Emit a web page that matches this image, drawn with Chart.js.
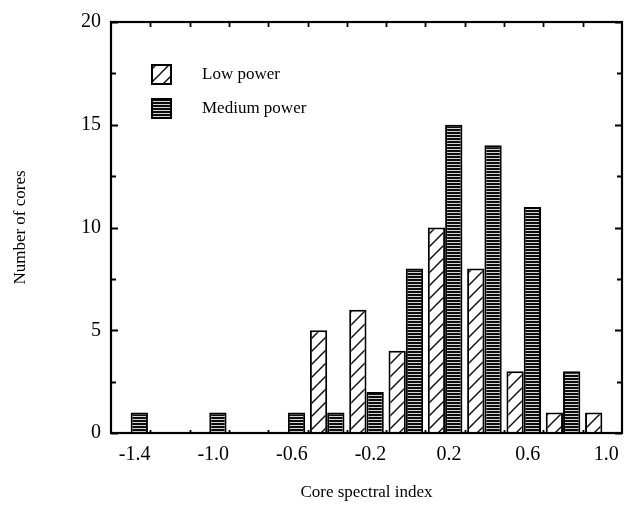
<!DOCTYPE html>
<html><head><meta charset="utf-8">
<script src="https://cdn.jsdelivr.net/npm/chart.js@4/dist/chart.umd.min.js"></script>
<style>html,body{margin:0;padding:0;background:#fff}</style>
</head><body>
<canvas id="c" width="643" height="510"></canvas>
<script>
const categories = ['-1.4','-1.2','-1.0','-0.8','-0.6','-0.4','-0.2','0.0','0.2','0.4','0.6','0.8','1.0'];
const tickLabels = ['-1.4','-1.0','-0.6','-0.2','0.2','0.6','1.0'];
const lowPower = [0,0,0,0,0,5,6,4,10,8,3,1,1];
const mediumPower = [1,0,1,0,1,1,2,8,15,14,11,3,0];
const yTickValues = [0,5,10,15,20];
const seriesNames = ['Low power','Medium power'];
const xTitle = 'Core spectral index';
const yTitle = 'Number of cores';

function hatchPattern(){
  const s = 13, cv = document.createElement('canvas');
  cv.width = s; cv.height = s;
  const g = cv.getContext('2d');
  g.fillStyle = '#fff'; g.fillRect(0,0,s,s);
  g.strokeStyle = '#111'; g.lineWidth = 1.5;
  for (const k of [0, s, 2*s]) {
    g.beginPath(); g.moveTo(-2, k+2); g.lineTo(k+2, -2); g.stroke();
  }
  return g.createPattern(cv, 'repeat');
}
function stripePattern(){
  const cv = document.createElement('canvas');
  cv.width = 4; cv.height = 3;
  const g = cv.getContext('2d');
  g.fillStyle = '#0d0d0d'; g.fillRect(0,0,4,3);
  g.fillStyle = '#d4d4d4'; g.fillRect(0,2,4,1);
  return g.createPattern(cv, 'repeat');
}
const lowFill = hatchPattern();
const medFill = stripePattern();
const SERIF = '"Liberation Serif", "Times New Roman", serif';

const frameAndTicks = {
  id: 'frameAndTicks',
  afterDatasetsDraw(chart){
    const {ctx, chartArea: a, scales: {x, y}} = chart;
    ctx.save();
    ctx.strokeStyle = '#000';
    ctx.lineWidth = 1.8;
    for (let v = 0; v <= 20; v += 2.5) {
      const py = Math.round(y.getPixelForValue(v)) + 0.5;
      const len = (v % 5 === 0) ? 7 : 5;
      ctx.beginPath();
      ctx.moveTo(a.left, py); ctx.lineTo(a.left + len, py);
      ctx.moveTo(a.right, py); ctx.lineTo(a.right - len, py);
      ctx.stroke();
    }
    for (let i = 0; i < categories.length - 1; i++) {
      const px = Math.round((x.getPixelForValue(i) + x.getPixelForValue(i+1)) / 2) + 0.5;
      ctx.beginPath();
      ctx.moveTo(px, a.top); ctx.lineTo(px, a.top + 5);
      ctx.moveTo(px, a.bottom); ctx.lineTo(px, a.bottom - 3);
      ctx.stroke();
    }
    ctx.lineWidth = 2.2;
    ctx.strokeRect(a.left, a.top, a.right - a.left, a.bottom - a.top);
    const fills = [lowFill, medFill];
    ctx.font = '17px ' + SERIF;
    ctx.textBaseline = 'middle';
    chart.data.datasets.forEach((ds, i) => {
      const bx = a.left + 41, by = a.top + 43 + i * 34;
      ctx.fillStyle = fills[i];
      ctx.fillRect(bx, by, 19, 19);
      ctx.lineWidth = 2;
      ctx.strokeRect(bx, by, 19, 19);
      ctx.fillStyle = '#000';
      ctx.fillText(ds.label, a.left + 91, by + 10);
    });
    ctx.restore();
  }
};

new Chart(document.getElementById('c'), {
  type: 'bar',
  data: {
    labels: categories,
    datasets: [
      { label: seriesNames[0], data: lowPower, backgroundColor: lowFill, borderColor: '#000', borderWidth: 2 },
      { label: seriesNames[1], data: mediumPower, backgroundColor: medFill, borderColor: '#000', borderWidth: 2 }
    ]
  },
  options: {
    responsive: false,
    animation: false,
    devicePixelRatio: 1,
    layout: { padding: { left: 0, right: 21, top: 16, bottom: 0 } },
    datasets: { bar: { categoryPercentage: 0.88, barPercentage: 1.0 } },
    plugins: { legend: { display: false }, tooltip: { enabled: false } },
    scales: {
      x: {
        grid: { display: false, drawTicks: false },
        border: { display: false },
        ticks: {
          autoSkip: false, maxRotation: 0, padding: 10, labelOffset: 4,
          color: '#000', font: { family: SERIF, size: 20 },
          callback(v, i) { const l = categories[i]; return tickLabels.includes(l) ? l : ''; }
        },
        title: { display: true, text: xTitle, color: '#000', font: { family: SERIF, size: 17 }, padding: { top: 0, bottom: 7 } },
        afterFit(s) { s.height = 77; }
      },
      y: {
        min: 0, max: 20,
        grid: { display: false, drawTicks: false },
        border: { display: false },
        afterBuildTicks(s) { s.ticks = yTickValues.map(v => ({ value: v })); },
        ticks: { padding: 10, color: '#000', font: { family: SERIF, size: 20 } },
        title: { display: true, text: yTitle, color: '#000', font: { family: SERIF, size: 17 }, padding: { top: 10, bottom: 0 } },
        afterFit(s) { s.width = 111; }
      }
    }
  },
  plugins: [frameAndTicks]
});
</script>
</body></html>
